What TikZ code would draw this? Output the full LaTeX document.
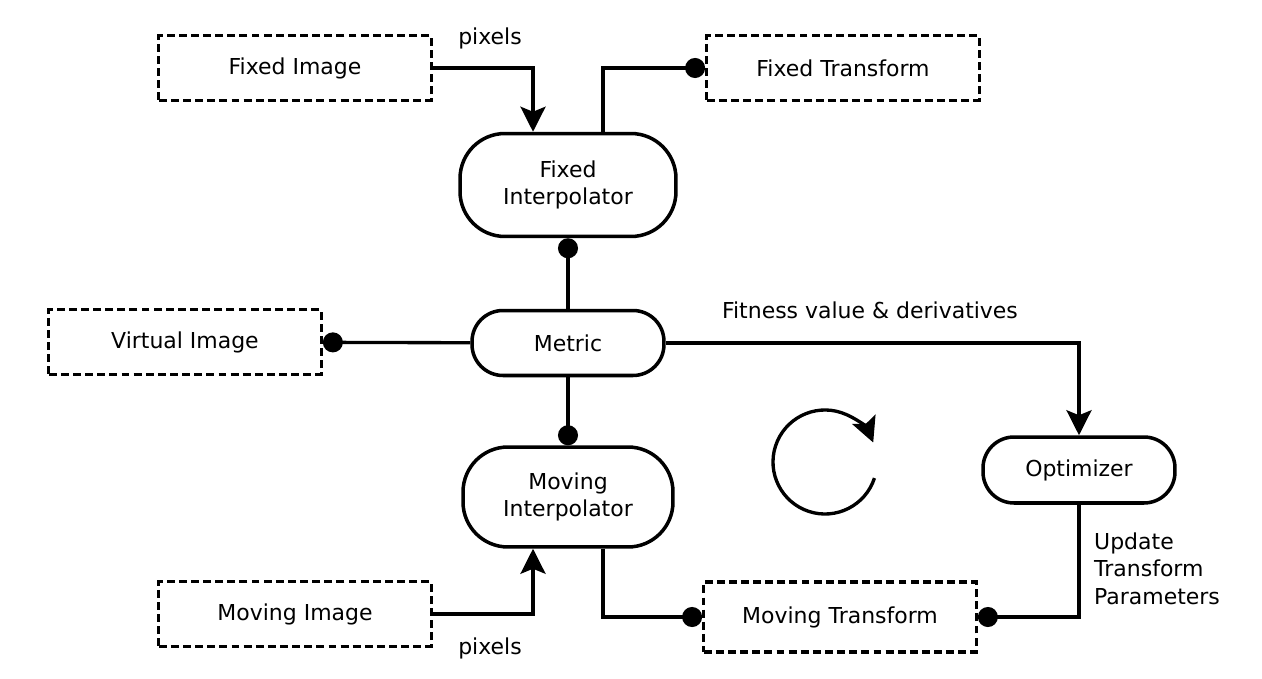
\documentclass[tikz,border=0pt]{standalone}
\usepackage{fontspec}
\setmainfont{DejaVu Sans}
\usetikzlibrary{arrows.meta}

\begin{document}
\begin{tikzpicture}[x=0.02cm,y=-0.02cm,font=\fontsize{12.5}{15.4}\selectfont,
    datbox/.style={draw,dash pattern=on 4.5pt off 2.4pt,line width=1.9pt,minimum width=5.45cm,minimum height=1.3cm},
    filter/.style={draw,line width=2pt,rounded corners=0.9cm,minimum width=4.2cm,minimum height=2cm,align=center},
    pill/.style={draw,line width=2pt,rounded corners=0.62cm,minimum width=3.84cm,minimum height=1.3cm},
    link/.style={line width=1.9pt},
    feed/.style={link,-{Stealth[length=0.5cm,width=0.5cm,inset=0.1cm]}},
    plug/.style={link,-{Circle[length=0.4cm]}}]
    \useasboundingbox (0,0) rectangle (1262,679);

    \node[datbox] (fimg) at (295,68) {Fixed Image};
    \node[datbox] (ftr) at (843,68) {Fixed Transform};
    \node[datbox] (vimg) at (185,342) {Virtual Image};
    \node[datbox] (mimg) at (295,614) {Moving Image};
    \node[datbox,minimum height=1.4cm] (mtr) at (840,617) {Moving Transform};

    \node[filter,minimum width=4.32cm,minimum height=2.06cm] (fint) at (568,185) {Fixed\\Interpolator};
    \node[filter] (mint) at (568,497) {Moving\\Interpolator};
    \node[pill] (met) at (568,343) {Metric};
    \node[pill,minimum height=1.32cm] (opt) at (1079,470) {Optimizer};

    \node (pixtop) at (490,38) {pixels};
    \node (pixbot) at (490,648) {pixels};
    \node (fitlbl) at (870,310) {Fitness value \& derivatives};
    \node[align=left,anchor=north west] (updlbl) at (1088,527) {Update\\Transform\\Parameters};

    \draw[feed] (fimg) -| ([xshift=-0.7cm]fint.north);
    \draw[plug] ([xshift=0.7cm]fint.north) |- (ftr);
    \draw[plug] (met) -- (fint);
    \draw[plug] (met) -- (vimg);
    \draw[plug] (met) -- (mint);
    \draw[feed] (met) -| (opt);
    \draw[plug] (opt) |- (mtr);
    \draw[plug] ([xshift=0.7cm]mint.south) |- (mtr);
    \draw[feed] (mimg) -| ([xshift=-0.7cm]mint.south);

    \draw[feed] (825,462) ++(18:52) arc[start angle=18,end angle=338,radius=52];
\end{tikzpicture}
\end{document}
